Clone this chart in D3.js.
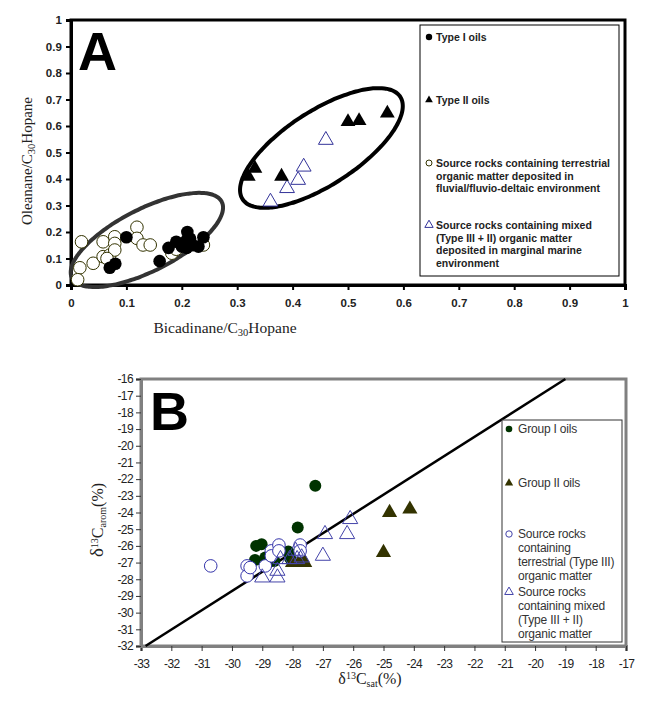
<!DOCTYPE html>
<html>
<head>
<meta charset="utf-8">
<script src="https://cdn.jsdelivr.net/npm/d3@7"></script>
<style>
  body { margin: 0; background: #fff; }
  svg  { display: block; }
</style>
</head>
<body>
<svg width="650" height="703"></svg>
<script>
// ---- panel A: Bicadinane vs Oleanane ----
const xTicksA = [0, 0.1, 0.2, 0.3, 0.4, 0.5, 0.6, 0.7, 0.8, 0.9, 1];
const yTicksA = [0, 0.1, 0.2, 0.3, 0.4, 0.5, 0.6, 0.7, 0.8, 0.9, 1];

const typeIOils = [
  [0.10, 0.18], [0.07, 0.065], [0.08, 0.08], [0.16, 0.09], [0.176, 0.14],
  [0.19, 0.163], [0.21, 0.20], [0.209, 0.17], [0.209, 0.14], [0.22, 0.15],
  [0.239, 0.18], [0.23, 0.145], [0.20, 0.145], [0.215, 0.175]
];
const typeIIOils = [
  [0.32, 0.41], [0.332, 0.44], [0.38, 0.41], [0.50, 0.616], [0.52, 0.62], [0.571, 0.648]
];
const terrestrialA = [
  [0.019, 0.163], [0.016, 0.065], [0.012, 0.02], [0.04, 0.082], [0.058, 0.163],
  [0.058, 0.107], [0.07, 0.113], [0.079, 0.182], [0.079, 0.157], [0.079, 0.132],
  [0.119, 0.218], [0.119, 0.176], [0.13, 0.151], [0.143, 0.151], [0.182, 0.12],
  [0.19, 0.135], [0.239, 0.151], [0.065, 0.1]
];
const mixedA = [
  [0.46, 0.547], [0.42, 0.446], [0.41, 0.396], [0.39, 0.365], [0.36, 0.314]
];
const legendA = [
  ["Type I oils"],
  ["Type II oils"],
  ["Source rocks containing terrestrial", "organic matter deposited in", "fluvial/fluvio-deltaic environment"],
  ["Source rocks containing mixed", "(Type III + II) organic matter", "deposited in marginal marine", "environment"]
];

// ---- panel B: carbon isotopes ----
const xTicksB = d3.range(-33, -16, 1);
const yTicksB = d3.range(-32, -15, 1);

const groupIOils = [
  [-27.25, -22.4], [-27.83, -24.9], [-29.02, -25.9], [-29.2, -26.0], [-29.24, -26.84],
  [-28.14, -26.34], [-28.08, -26.74], [-28.6, -26.9], [-28.9, -26.7]
];
const groupIIOils = [
  [-24.8, -24.0], [-24.13, -23.8], [-25.0, -26.4], [-27.75, -26.9], [-27.6, -27.0], [-28.0, -27.0]
];
const terrestrialB = [
  [-30.7, -27.2], [-29.5, -27.2], [-29.5, -27.8], [-29.4, -27.3], [-28.9, -27.2],
  [-28.7, -26.3], [-28.7, -26.6], [-28.45, -25.95], [-28.45, -26.3], [-27.75, -25.95], [-27.75, -26.3]
];
const mixedB = [
  [-26.93, -25.3], [-26.2, -25.3], [-26.1, -24.4], [-27.0, -26.6], [-29.0, -27.9],
  [-28.5, -27.9], [-28.5, -27.5], [-28.4, -26.8], [-27.9, -26.3], [-27.85, -26.8],
  [-28.1, -26.8], [-27.7, -26.7]
];
const lineB = [[-32.85, -32], [-19, -16]];
const legendB = [
  ["Group I oils"],
  ["Group II oils"],
  ["Source rocks", "containing", "terrestrial (Type III)", "organic matter"],
  ["Source rocks", "containing mixed", "(Type III + II)", "organic matter"]
];

const svg = d3.select("svg");
const sansFont  = "'Liberation Sans', Arial, sans-serif";
const serifFont = "'Liberation Serif', 'Times New Roman', serif";
const tri = d3.symbol().type(d3.symbolTriangle);

function ellipsePath(cx, cy, a, b, angle) {
  const pts = [];
  const r = angle * Math.PI / 180;
  for (let t = 0; t <= Math.PI * 2 + 0.01; t += 0.05) {
    const ex = a * Math.cos(t), ey = b * Math.sin(t);
    pts.push([cx + ex * Math.cos(r) - ey * Math.sin(r), cy + ex * Math.sin(r) + ey * Math.cos(r)]);
  }
  return d3.line().curve(d3.curveCardinalClosed)(pts);
}

function drawPanelA() {
  const x = d3.scaleLinear().domain([0, 1]).range([71, 625]);
  const y = d3.scaleLinear().domain([0, 1]).range([285, 20]);
  const g = svg.append("g");

  g.append("rect").attr("x", 71).attr("y", 20).attr("width", 554).attr("height", 265)
    .attr("fill", "#fff").attr("stroke", "#000").attr("stroke-width", 3);

  const ax = g.append("g").attr("transform", "translate(0,285)")
    .call(d3.axisBottom(x).tickValues(xTicksA).tickFormat(d => String(d)).tickSize(5));
  const ay = g.append("g").attr("transform", "translate(71,0)")
    .call(d3.axisLeft(y).tickValues(yTicksA).tickFormat(d => String(d)).tickSize(5));
  [ax, ay].forEach(a => {
    a.select(".domain").attr("stroke-width", 3);
    a.selectAll(".tick line").attr("stroke-width", 2);
    a.selectAll("text").attr("font-family", sansFont).attr("font-weight", "bold")
      .attr("font-size", 11.5).attr("fill", "#222");
  });
  ax.selectAll("text").attr("dy", "1.25em");
  ay.selectAll("text").attr("dx", "-0.1em");

  // cluster outlines
  g.append("path").attr("d", ellipsePath(x(0.137), y(0.17), 84, 31, -27))
    .attr("fill", "none").attr("stroke", "#333").attr("stroke-width", 4);
  g.append("path").attr("d", ellipsePath(x(0.452), y(0.517), 94, 37, -33))
    .attr("fill", "none").attr("stroke", "#000").attr("stroke-width", 4);

  g.selectAll(".terr").data(terrestrialA).enter().append("circle")
    .attr("cx", d => x(d[0])).attr("cy", d => y(d[1])).attr("r", 6.3)
    .attr("fill", "#fff").attr("stroke", "#333300").attr("stroke-width", 1);
  g.selectAll(".t1").data(typeIOils).enter().append("circle")
    .attr("cx", d => x(d[0])).attr("cy", d => y(d[1])).attr("r", 6.3).attr("fill", "#000");
  g.selectAll(".mix").data(mixedA).enter().append("path")
    .attr("d", tri.size(95)()).attr("transform", d => `translate(${x(d[0])},${y(d[1])})`)
    .attr("fill", "#fff").attr("stroke", "#333399").attr("stroke-width", 1);
  g.selectAll(".t2").data(typeIIOils).enter().append("path")
    .attr("d", tri.size(95)()).attr("transform", d => `translate(${x(d[0])},${y(d[1])})`)
    .attr("fill", "#000");

  g.append("text").attr("x", 78).attr("y", 70).text("A")
    .attr("font-family", sansFont).attr("font-weight", "bold").attr("font-size", 54);

  // legend
  g.append("rect").attr("x", 420).attr("y", 25).attr("width", 199).attr("height", 251)
    .attr("fill", "#fff").attr("stroke", "#000").attr("stroke-width", 1);
  const rowsY = [37, 100, 163, 225];
  legendA.forEach((lines, i) => {
    const ty = rowsY[i];
    if (i === 0) g.append("circle").attr("cx", 429).attr("cy", ty).attr("r", 3.2).attr("fill", "#000");
    if (i === 1) g.append("path").attr("d", tri.size(26)()).attr("transform", `translate(429,${ty})`).attr("fill", "#000");
    if (i === 2) g.append("circle").attr("cx", 429).attr("cy", ty).attr("r", 3).attr("fill", "#fff").attr("stroke", "#333300");
    if (i === 3) g.append("path").attr("d", tri.size(30)()).attr("transform", `translate(429,${ty})`).attr("fill", "#fff").attr("stroke", "#333399");
    lines.forEach((s, j) => {
      g.append("text").attr("x", 436).attr("y", ty + j * 12.6 + 4).text(s)
        .attr("font-family", sansFont).attr("font-weight", "bold").attr("font-size", 10.5).attr("fill", "#222");
    });
  });

  // axis titles
  const xt = g.append("text").attr("x", 225).attr("y", 333).attr("text-anchor", "middle")
    .attr("font-family", serifFont).attr("font-size", 15.5).attr("fill", "#222");
  xt.append("tspan").text("Bicadinane/C");
  xt.append("tspan").text("30").attr("font-size", 10.5).attr("dy", 3);
  xt.append("tspan").text("Hopane").attr("dy", -3);

  const yt = g.append("text").attr("transform", "translate(32,161) rotate(-90)").attr("text-anchor", "middle")
    .attr("font-family", serifFont).attr("font-size", 15).attr("fill", "#222");
  yt.append("tspan").text("Oleanane/C");
  yt.append("tspan").text("30").attr("font-size", 10.5).attr("dy", 3);
  yt.append("tspan").text("Hopane").attr("dy", -3);
}

function drawPanelB() {
  const x = d3.scaleLinear().domain([-33, -17]).range([141, 626]);
  const y = d3.scaleLinear().domain([-32, -16]).range([646, 379]);
  const g = svg.append("g");

  g.append("rect").attr("x", 141).attr("y", 379).attr("width", 485).attr("height", 267)
    .attr("fill", "#fff").attr("stroke", "#808080").attr("stroke-width", 3);

  const ax = g.append("g").attr("transform", "translate(0,646)")
    .call(d3.axisBottom(x).tickValues(xTicksB).tickFormat(d => String(d)).tickSize(5));
  const ay = g.append("g").attr("transform", "translate(141,0)")
    .call(d3.axisLeft(y).tickValues(yTicksB).tickFormat(d => String(d)).tickSize(5));
  [ax, ay].forEach(a => {
    a.select(".domain").attr("stroke", "#808080").attr("stroke-width", 3);
    a.selectAll(".tick line").attr("stroke", "#333");
    a.selectAll("text").attr("font-family", sansFont).attr("font-size", 12)
      .attr("fill", "#222").attr("letter-spacing", -0.6);
  });
  ax.selectAll("text").attr("dy", "1.2em");

  g.append("path").attr("d", d3.line().x(d => x(d[0])).y(d => y(d[1]))(lineB))
    .attr("stroke", "#000").attr("stroke-width", 2.5).attr("fill", "none");

  g.selectAll(".g1").data(groupIOils).enter().append("circle")
    .attr("cx", d => x(d[0])).attr("cy", d => y(d[1])).attr("r", 6).attr("fill", "#003300");
  g.selectAll(".g2").data(groupIIOils).enter().append("path")
    .attr("d", tri.size(100)()).attr("transform", d => `translate(${x(d[0])},${y(d[1])})`)
    .attr("fill", "#333300");
  g.selectAll(".tb").data(terrestrialB).enter().append("circle")
    .attr("cx", d => x(d[0])).attr("cy", d => y(d[1])).attr("r", 6.3)
    .attr("fill", "#fff").attr("stroke", "#3333aa").attr("stroke-width", 1);
  g.selectAll(".mb").data(mixedB).enter().append("path")
    .attr("d", tri.size(100)()).attr("transform", d => `translate(${x(d[0])},${y(d[1])})`)
    .attr("fill", "none").attr("stroke", "#4444aa").attr("stroke-width", 1);

  g.append("text").attr("x", 150).attr("y", 430).text("B")
    .attr("font-family", sansFont).attr("font-weight", "bold").attr("font-size", 54);

  // legend
  g.append("rect").attr("x", 502).attr("y", 420).attr("width", 120).attr("height", 222)
    .attr("fill", "#fff").attr("stroke", "#333").attr("stroke-width", 1);
  const rowsY = [429, 483, 534, 592];
  legendB.forEach((lines, i) => {
    const ty = rowsY[i];
    if (i === 0) g.append("circle").attr("cx", 509).attr("cy", ty).attr("r", 3.3).attr("fill", "#003300");
    if (i === 1) g.append("path").attr("d", tri.size(30)()).attr("transform", `translate(509,${ty})`).attr("fill", "#333300");
    if (i === 2) g.append("circle").attr("cx", 509).attr("cy", ty).attr("r", 3.2).attr("fill", "#fff").attr("stroke", "#4444aa");
    if (i === 3) g.append("path").attr("d", tri.size(32)()).attr("transform", `translate(509,${ty})`).attr("fill", "none").attr("stroke", "#4444aa");
    lines.forEach((s, j) => {
      g.append("text").attr("x", 518).attr("y", ty + j * 13.8 + 4.3).text(s)
        .attr("font-family", sansFont).attr("font-size", 12).attr("fill", "#333").attr("letter-spacing", -0.2);
    });
  });

  const xt = g.append("text").attr("x", 370).attr("y", 684).attr("text-anchor", "middle")
    .attr("font-family", serifFont).attr("font-size", 16).attr("fill", "#222");
  xt.append("tspan").text("δ");
  xt.append("tspan").text("13").attr("font-size", 10).attr("dy", -5);
  xt.append("tspan").text("C").attr("dy", 5);
  xt.append("tspan").text("sat").attr("font-size", 10).attr("dy", 3);
  xt.append("tspan").text("(%)").attr("dy", -3);

  const yt = g.append("text").attr("transform", "translate(103,520) rotate(-90)").attr("text-anchor", "middle")
    .attr("font-family", serifFont).attr("font-size", 16).attr("fill", "#222");
  yt.append("tspan").text("δ").attr("font-size", 19);
  yt.append("tspan").text("13").attr("font-size", 10).attr("dy", -5);
  yt.append("tspan").text("C").attr("dy", 5);
  yt.append("tspan").text("arom").attr("font-size", 10).attr("dy", 3);
  yt.append("tspan").text("(%)").attr("dy", -3);
}

drawPanelA();
drawPanelB();
</script>
</body>
</html>
